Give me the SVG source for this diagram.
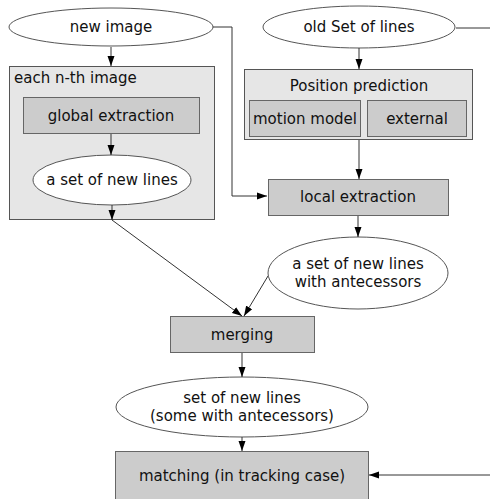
<svg xmlns="http://www.w3.org/2000/svg" width="490" height="499" viewBox="0 0 490 499">
<defs>
<marker id="ah" markerWidth="10" markerHeight="8" refX="10" refY="4" orient="auto" markerUnits="userSpaceOnUse">
<path d="M0,0.5 L10,4 L0,7.5 z" fill="#000"/>
</marker>
<style>
text{font-family:"DejaVu Sans",sans-serif;font-size:15px;fill:#111;text-anchor:middle}
.ell{fill:#fff;stroke:#555;stroke-width:1}
.outer{fill:#e6e6e6;stroke:#555;stroke-width:1}
.inner{fill:#cccccc;stroke:#666;stroke-width:1}
.c{fill:none;stroke:#333;stroke-width:1}
</style>
</defs>
<rect width="490" height="499" fill="#fff"/>
<g id="new-image"><ellipse class="ell" cx="111" cy="27" rx="102" ry="19"/><text x="111" y="32">new image</text></g>
<g id="each-nth"><rect class="outer" x="9.5" y="66.5" width="205" height="153"/><text x="14" y="83" style="text-anchor:start">each n-th image</text></g>
<g id="global-extraction"><rect class="inner" x="23.5" y="97.5" width="176" height="36"/><text x="111" y="121">global extraction</text></g>
<g id="new-lines"><ellipse class="ell" cx="112" cy="180" rx="79" ry="25"/><text x="112" y="185">a set of new lines</text></g>
<g id="old-set"><ellipse class="ell" cx="359" cy="27" rx="96" ry="21"/><text x="359" y="32">old Set of lines</text></g>
<g id="position-prediction"><rect class="outer" x="244.5" y="69.5" width="228" height="70"/><text x="359" y="91">Position prediction</text></g>
<g id="motion-model"><rect class="inner" x="249.5" y="100.5" width="111" height="36"/><text x="305" y="124">motion model</text></g>
<g id="external"><rect class="inner" x="367.5" y="100.5" width="99" height="36"/><text x="417" y="124">external</text></g>
<g id="local-extraction"><rect class="inner" x="268.5" y="179.5" width="180" height="36"/><text x="358" y="202">local extraction</text></g>
<g id="new-lines-ante"><ellipse class="ell" cx="358" cy="273" rx="90" ry="36"/><text x="358" y="269">a set of new lines</text><text x="358" y="287">with antecessors</text></g>
<g id="merging"><rect class="inner" x="170.5" y="316.5" width="144" height="36"/><text x="242" y="340">merging</text></g>
<g id="set-some"><ellipse class="ell" cx="242" cy="407" rx="126" ry="30"/><text x="242" y="403">set of new lines</text><text x="242" y="421">(some with antecessors)</text></g>
<g id="matching"><rect class="inner" x="115.5" y="451.5" width="253" height="50"/><text x="242" y="481">matching (in tracking case)</text></g>
<g id="connectors">
<path class="c" d="M213,27 H232 V196 H267" marker-end="url(#ah)"/>
<path class="c" d="M111,47 V66" marker-end="url(#ah)"/>
<path class="c" d="M111,134 V155" marker-end="url(#ah)"/>
<path class="c" d="M112,205 V220" marker-end="url(#ah)"/>
<path class="c" d="M112,220 L242,316" marker-end="url(#ah)"/>
<path class="c" d="M456,28 H490"/>
<path class="c" d="M359,48 V69" marker-end="url(#ah)"/>
<path class="c" d="M359,140 V179" marker-end="url(#ah)"/>
<path class="c" d="M358,216 V237" marker-end="url(#ah)"/>
<path class="c" d="M268,276 L244,316" marker-end="url(#ah)"/>
<path class="c" d="M242,353 V377" marker-end="url(#ah)"/>
<path class="c" d="M242,437 V451" marker-end="url(#ah)"/>
<path class="c" d="M490,475 H369" marker-end="url(#ah)"/>
</g>
</svg>
